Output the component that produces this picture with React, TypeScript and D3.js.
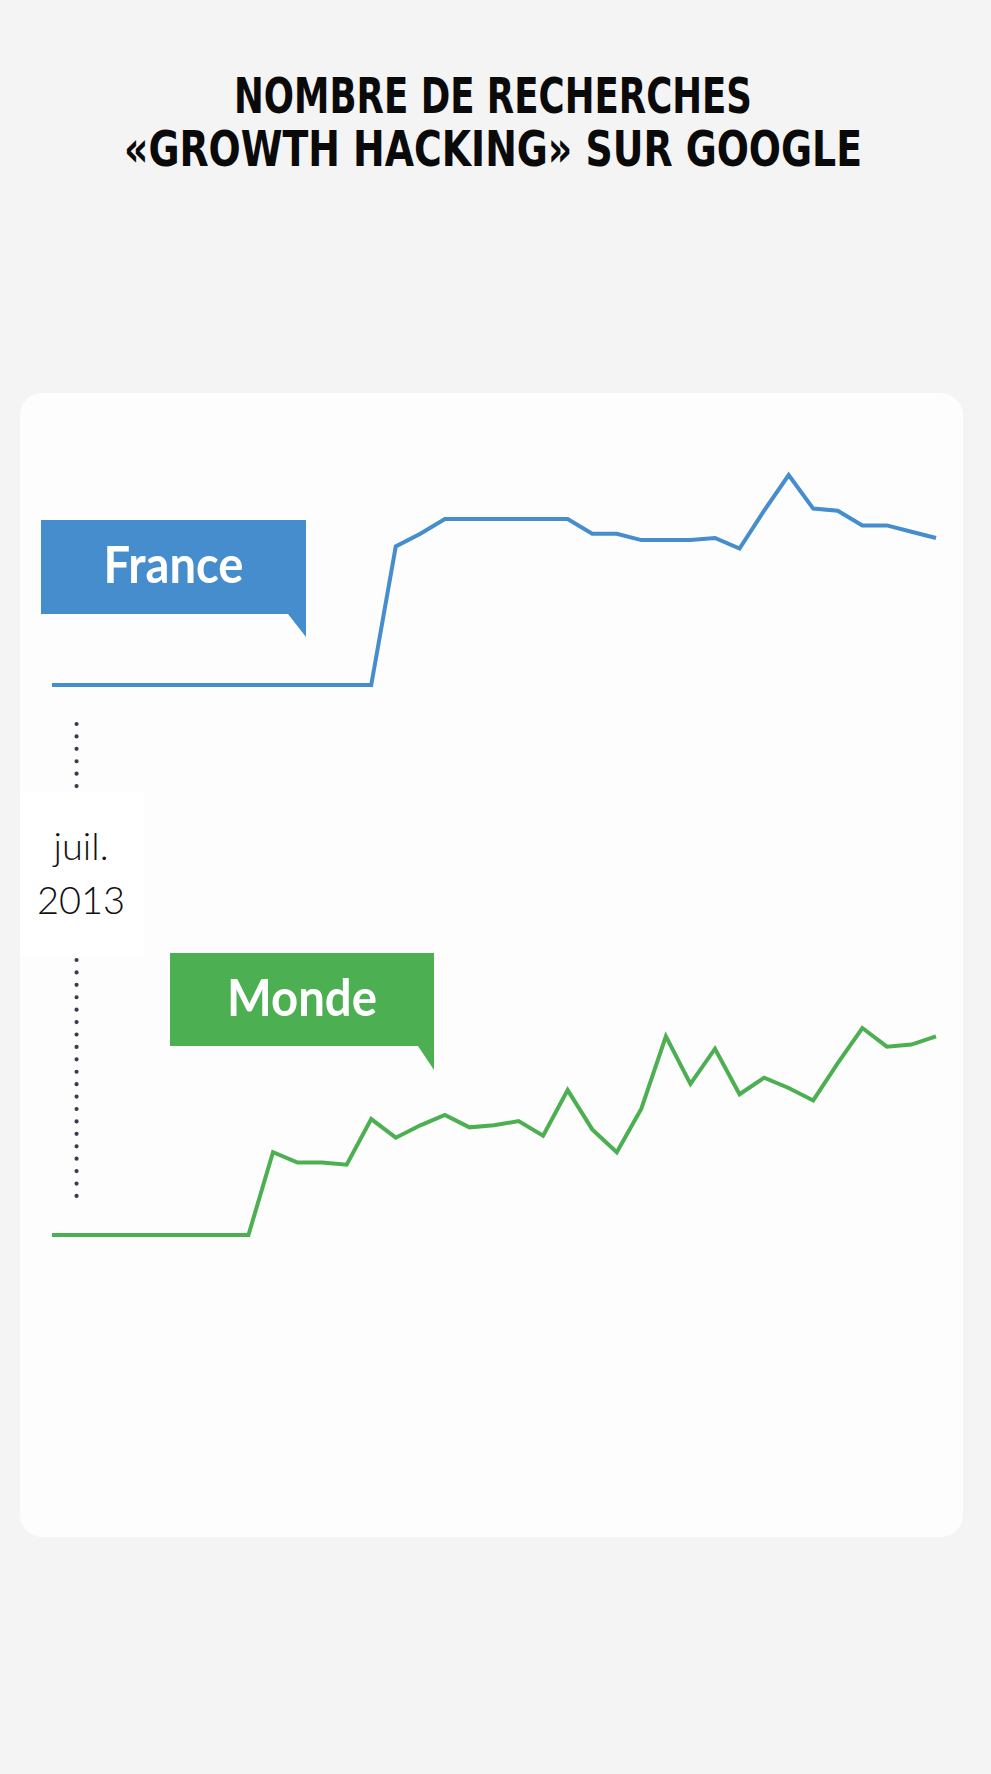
import { useEffect, useRef } from "react"
import * as d3 from "d3"

// Monthly search interest (Google Trends index, 0-100), June 2013 -> June 2016
const monthKeys = d3.timeMonth
  .range(new Date(2013, 5, 1), new Date(2016, 6, 1))
  .map((d) => d3.timeFormat("%Y-%m")(d))

const franceValues = [
  0, 0, 0, 0, 0, 0, 0, 0, 0, 0, 0, 0, 0, 0, 66, 72, 79, 79, 79, 79, 79, 79, 72,
  72, 69, 69, 69, 70, 65, 83, 100, 84, 83, 76, 76, 73, 70,
]
const mondeValues = [
  0, 0, 0, 0, 0, 0, 0, 0, 0, 40, 35, 35, 34, 56, 47, 53, 58, 52, 53, 55, 48, 70,
  51, 40, 61, 96, 73, 90, 68, 76, 71, 65, 83, 100, 91, 92, 96,
]

const seriesNames = ["France", "Monde"]
const titleLines = ["NOMBRE DE RECHERCHES", "«GROWTH HACKING» SUR GOOGLE"]
const markerMonth = "2013-07"
const markerLabel = ["juil.", "2013"]

export default function App() {
  const svgRef = useRef<SVGSVGElement>(null)

  useEffect(() => {
    if (!svgRef.current) return
    d3.select(svgRef.current).selectAll("*").remove()

    const W = 991
    const H = 1774
    const svg = d3.select(svgRef.current).attr("width", W).attr("height", H)

    // page + card
    svg.append("rect").attr("width", W).attr("height", H).attr("fill", "#f4f4f4")
    svg
      .append("rect")
      .attr("x", 20)
      .attr("y", 393)
      .attr("width", 943)
      .attr("height", 1144)
      .attr("rx", 22)
      .attr("fill", "#fdfdfd")

    // title
    svg
      .selectAll(".title")
      .data(titleLines)
      .join("text")
      .attr("class", "title")
      .attr("x", 493)
      .attr("y", (d, i) => 113 + i * 53)
      .attr("text-anchor", "middle")
      .attr("textLength", (d, i) => (i === 0 ? 518 : 738))
      .attr("lengthAdjust", "spacingAndGlyphs")
      .style("font-family", "'Liberation Sans Narrow', 'DejaVu Sans Condensed', sans-serif")
      .style("font-weight", 700)
      .style("font-size", "49px")
      .attr("fill", "#0a0a0a")
      .text((d) => d)

    // shared x scale (one point per month)
    const x = d3.scalePoint<string>().domain(monthKeys).range([52, 936])

    // dotted marker for juil. 2013
    const mx = x(markerMonth) || 0
    svg
      .append("line")
      .attr("x1", mx)
      .attr("x2", mx)
      .attr("y1", 724)
      .attr("y2", 1196)
      .attr("stroke", "#3b3b4d")
      .attr("stroke-width", 4.2)
      .attr("stroke-linecap", "round")
      .attr("stroke-dasharray", "0 12.42")

    svg
      .append("rect")
      .attr("x", 20)
      .attr("y", 792)
      .attr("width", 124)
      .attr("height", 164)
      .attr("fill", "#ffffff")

    svg
      .selectAll(".marker-label")
      .data(markerLabel)
      .join("text")
      .attr("class", "marker-label")
      .attr("x", 81)
      .attr("y", (d, i) => 860 + i * 54)
      .attr("text-anchor", "middle")
      .style("font-family", "Lato, 'Open Sans', sans-serif")
      .style("font-weight", 300)
      .style("font-size", "38px")
      .attr("fill", "#111")
      .text((d) => d)

    // one panel per series, each with its own vertical scale
    const panels = [
      {
        name: seriesNames[0],
        values: franceValues,
        color: "#458dcc",
        y: d3.scaleLinear().domain([0, 100]).range([685, 475]),
        box: { x0: 41, x1: 306, top: 520, bottom: 614, tail: 288, tip: 637 },
        textW: 140,
      },
      {
        name: seriesNames[1],
        values: mondeValues,
        color: "#4caf51",
        y: d3.scaleLinear().domain([0, 100]).range([1235, 1028]),
        box: { x0: 170, x1: 434, top: 953, bottom: 1046, tail: 418, tip: 1070 },
        textW: 150,
      },
    ]

    panels.forEach((p) => {
      const line = d3
        .line<number>()
        .x((d, i) => x(monthKeys[i]) || 0)
        .y((d) => p.y(d))

      svg
        .append("path")
        .datum(p.values)
        .attr("d", line)
        .attr("fill", "none")
        .attr("stroke", p.color)
        .attr("stroke-width", 4)
        .attr("stroke-linejoin", "miter")

      const b = p.box
      svg
        .append("path")
        .attr(
          "d",
          `M${b.x0},${b.top}H${b.x1}V${b.tip}L${b.tail},${b.bottom}H${b.x0}Z`
        )
        .attr("fill", p.color)

      svg
        .append("text")
        .attr("x", (b.x0 + b.x1) / 2)
        .attr("y", b.top + 63)
        .attr("text-anchor", "middle")
        .attr("textLength", p.textW)
        .attr("lengthAdjust", "spacingAndGlyphs")
        .style("font-family", "Lato, 'Open Sans', sans-serif")
        .style("font-weight", 700)
        .style("font-size", "52px")
        .attr("fill", "#ffffff")
        .text(p.name)
    })
  }, [])

  return (
    <div>
      <style>{`body{margin:0;}`}</style>
      <svg ref={svgRef} style={{ display: "block" }}></svg>
    </div>
  )
}
